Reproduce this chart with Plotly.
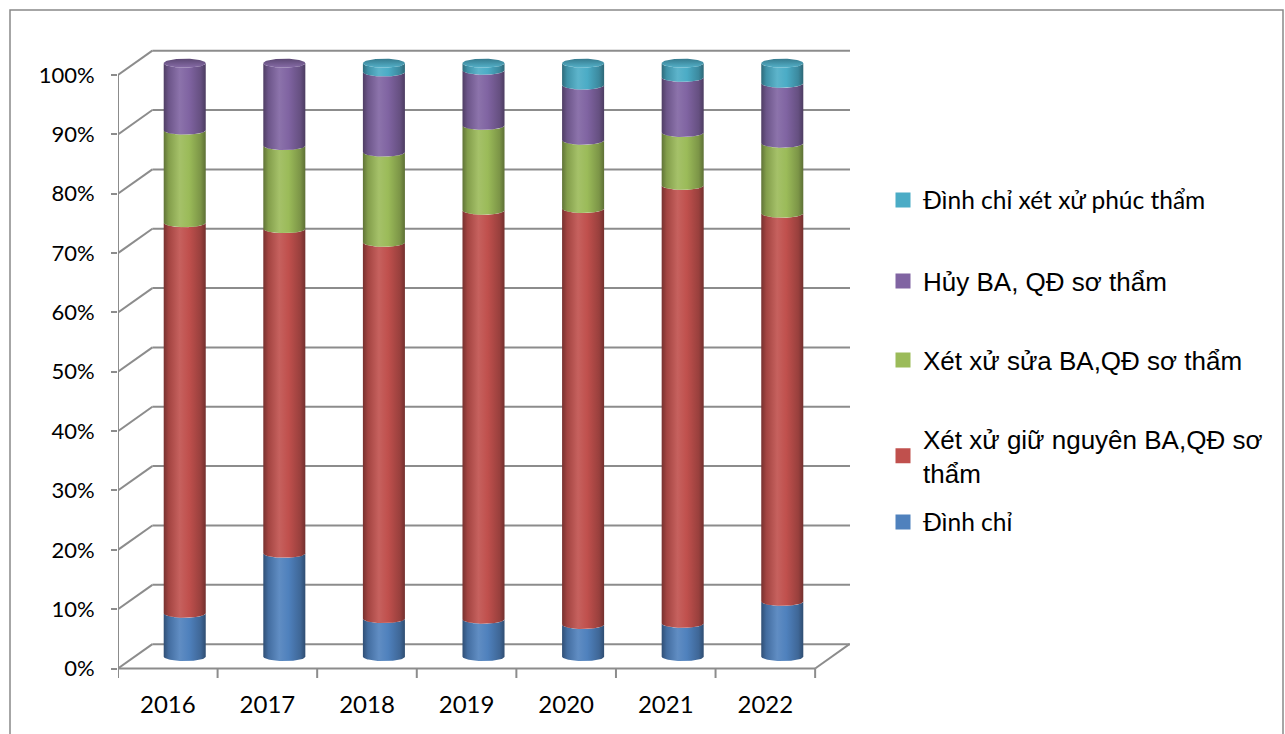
import numpy as np
import plotly.graph_objects as go

# ---- data (percent of cases per year) ----
years = ["2016", "2017", "2018", "2019", "2020", "2021", "2022"]
dinh_chi = [7.3, 17.4, 6.4, 6.3, 5.4, 5.6, 9.3]
giu_nguyen = [65.8, 54.7, 63.4, 68.9, 70.1, 73.8, 65.4]
sua = [15.6, 14.0, 15.2, 14.3, 11.5, 8.9, 11.8]
huy = [11.3, 13.9, 13.5, 9.3, 9.3, 9.3, 10.1]
dinh_chi_pt = [0.0, 0.0, 1.5, 1.2, 3.7, 2.4, 3.4]

series_names = [
    "Đình chỉ",
    "Xét xử giữ nguyên BA,QĐ sơ<br>thẩm",
    "Xét xử sửa BA,QĐ sơ thẩm",
    "Hủy BA, QĐ sơ thẩm",
    "Đình chỉ xét xử phúc thẩm",
]
series_values = [dinh_chi, giu_nguyen, sua, huy, dinh_chi_pt]
series_colors = ["#4F81BD", "#C0504D", "#9BBB59", "#8064A2", "#4BACC6"]
tick_pcts = [0, 10, 20, 30, 40, 50, 60, 70, 80, 90, 100]
tick_texts = [f"{p}%" for p in tick_pcts]

# ---- geometry of the pseudo-3D frame ----
DEPTH_X = 0.345      # back wall shift in category units
DEPTH_Y = 4.1        # back wall shift in percent units
RADIUS = 0.211       # cylinder radius (category units)
ELL = 0.75           # ellipse half-height (percent units)
CYL_DX = 0.17        # cylinders sit half-way into the depth
CYL_DY = 2.0
X_MIN, X_MAX = -0.5, 6.85
Y_MIN, Y_MAX = -1.6, 105.9


def shade(hex_color, f):
    h = hex_color.lstrip("#")
    r, g, b = (int(h[i:i + 2], 16) for i in (0, 2, 4))
    if f >= 1:
        r, g, b = (int(c + (255 - c) * (f - 1)) for c in (r, g, b))
    else:
        r, g, b = (int(c * f) for c in (r, g, b))
    return f"rgb({r},{g},{b})"


def side_scale(c):
    return [[0.0, shade(c, 0.62)], [0.12, shade(c, 0.85)], [0.38, shade(c, 1.1)],
            [0.6, shade(c, 1.0)], [0.88, shade(c, 0.8)], [1.0, shade(c, 0.6)]]


fig = go.Figure()
theta_low = np.linspace(np.pi, 2 * np.pi, 48)
theta_full = np.linspace(0, 2 * np.pi, 96)

for i, year in enumerate(years):
    cx = i + CYL_DX
    bottom = 0.0
    top_idx = max(k for k, vals in enumerate(series_values) if vals[i] > 0)
    for k, vals in enumerate(series_values):
        v = vals[i]
        if v <= 0:
            continue
        top = bottom + v
        xs_b = cx + RADIUS * np.cos(theta_low)
        ys_b = bottom + CYL_DY + ELL * np.sin(theta_low)
        xs_t = (cx + RADIUS * np.cos(theta_low))[::-1]
        ys_t = (top + CYL_DY + ELL * np.sin(theta_low))[::-1]
        xs = np.concatenate([xs_b, xs_t, xs_b[:1]])
        ys = np.concatenate([ys_b, ys_t, ys_b[:1]])
        fig.add_trace(go.Scatter(
            x=xs, y=ys, mode="lines", fill="toself",
            line=dict(width=0), fillcolor=series_colors[k],
            fillgradient=dict(type="horizontal", colorscale=side_scale(series_colors[k])),
            showlegend=False, hoverinfo="skip",
        ))
        if k == top_idx:
            cap_c = series_colors[k]
            fig.add_trace(go.Scatter(
                x=cx + RADIUS * np.cos(theta_full),
                y=top + CYL_DY + ELL * np.sin(theta_full),
                mode="lines", fill="toself", line=dict(width=0),
                fillcolor=shade(cap_c, 0.85),
                fillgradient=dict(type="vertical", colorscale=[
                    [0.0, shade(cap_c, 1.05)], [1.0, shade(cap_c, 0.72)]]),
                showlegend=False, hoverinfo="skip",
            ))
        bottom = top

# ---- legend (one box per entry so the spacing can follow the layout) ----
legend_rows = [  # series index, centre y in px, font family, size
    (4, 200, "Lato", 24.5),
    (3, 281, "Liberation Sans", 26),
    (2, 360, "Liberation Sans", 26),
    (1, 456, "Liberation Sans", 26),
    (0, 522, "Lato", 24.5),
]
legend_layout = {}
for n, (k, py, fam, fs) in enumerate(legend_rows):
    key = "legend" if n == 0 else f"legend{n + 1}"
    fig.add_trace(go.Scatter(
        x=[None], y=[None], mode="markers", name=series_names[k],
        marker=dict(symbol="square", size=15, color=series_colors[k]),
        legend=key, showlegend=True, hoverinfo="skip",
    ))
    legend_layout[key] = dict(
        xref="container", yref="container", x=883 / 1285, y=1 - py / 734,
        xanchor="left", yanchor="middle", bgcolor="rgba(0,0,0,0)",
        font=dict(family=fam, size=fs, color="#000000"),
        itemclick=False, itemdoubleclick=False,
    )

# ---- pseudo-3D walls, gridlines and ticks ----
GRID = dict(color="#8c8c8c", width=2)
shapes = []
for p in tick_pcts:
    shapes.append(dict(type="line", xref="x", yref="y", layer="below",
                       x0=X_MIN + DEPTH_X, x1=X_MAX, y0=p + DEPTH_Y, y1=p + DEPTH_Y, line=GRID))
    shapes.append(dict(type="line", xref="x", yref="y", layer="below",
                       x0=X_MIN, x1=X_MIN + DEPTH_X, y0=p, y1=p + DEPTH_Y, line=GRID))
shapes.append(dict(type="line", xref="x", yref="y", layer="below",
                   x0=X_MIN, x1=X_MIN, y0=0, y1=100, line=GRID))
front_right = X_MIN + len(years)
shapes.append(dict(type="line", xref="x", yref="y", layer="below",
                   x0=X_MIN, x1=front_right, y0=0, y1=0, line=GRID))
shapes.append(dict(type="line", xref="x", yref="y", layer="below",
                   x0=front_right, x1=front_right + DEPTH_X, y0=0, y1=DEPTH_Y, line=GRID))
for b in range(len(years) + 1):
    shapes.append(dict(type="line", xref="x", yref="y", layer="below",
                       x0=X_MIN + b, x1=X_MIN + b, y0=0, y1=Y_MIN, line=GRID))

# outer chart border
L, R, T, B = 118, 435, 40, 55.5
pw, ph = 1285 - L - R, 734 - T - B
shapes.append(dict(type="rect", xref="paper", yref="paper", layer="below",
                   x0=(10 - L) / pw, x1=(1283 - L) / pw,
                   y0=(734 - B - 745) / ph, y1=(734 - B - 10) / ph,
                   line=dict(color="#898989", width=1.5), fillcolor="rgba(0,0,0,0)"))

fig.update_layout(
    width=1285, height=734,
    margin=dict(l=L, r=R, t=T, b=B),
    paper_bgcolor="white", plot_bgcolor="rgba(0,0,0,0)",
    shapes=shapes,
    **legend_layout,
    xaxis=dict(range=[X_MIN, X_MAX], tickvals=list(range(len(years))), ticktext=years,
               showgrid=False, zeroline=False, showline=False, ticks="",
               ticklabelstandoff=10,
               tickfont=dict(family="Lato", size=24, color="#000000")),
    yaxis=dict(range=[Y_MIN, Y_MAX], tickvals=tick_pcts, ticktext=tick_texts,
               showgrid=False, zeroline=False, showline=False,
               ticks="outside", ticklen=6, tickwidth=2, tickcolor="#8c8c8c",
               ticklabelstandoff=12,
               tickfont=dict(family="Lato", size=22, color="#000000")),
)

fig.write_html("out.html")
